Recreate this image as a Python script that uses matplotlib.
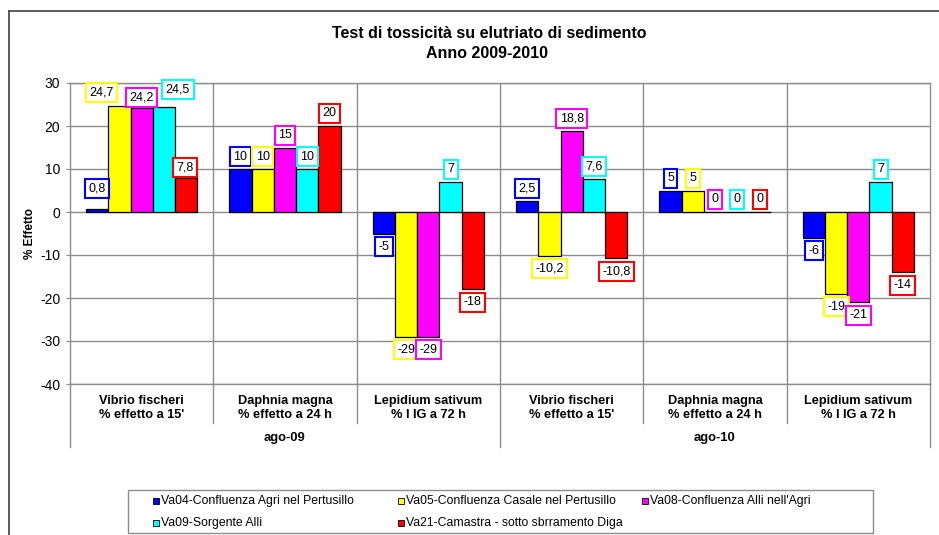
import numpy as np
import matplotlib
matplotlib.use("Agg")
import matplotlib.pyplot as plt
from matplotlib.transforms import blended_transform_factory
from matplotlib.patches import Rectangle

plt.rcParams['font.family'] = ['Liberation Sans', 'DejaVu Sans']

# stations (series)
stations = ["Va04-Confluenza Agri nel Pertusillo",
            "Va05-Confluenza Casale nel Pertusillo",
            "Va08-Confluenza Alli nell'Agri",
            "Va09-Sorgente Alli",
            "Va21-Camastra - sotto sbrramento Diga"]
colors = ["#0000FF", "#FFFF00", "#FF00FF", "#00FFFF", "#FF0000"]

# test categories, two campaigns
tests = ["Vibrio fischeri\n% effetto a 15'",
         "Daphnia magna\n% effetto a 24 h",
         "Lepidium sativum\n% I IG a 72 h"] * 2
campaigns = ["ago-09", "ago-10"]

va04 = [0.8, 10, -5, 2.5, 5, -6]
va05 = [24.7, 10, -29, -10.2, 5, -19]
va08 = [24.2, 15, -29, 18.8, 0, -21]
va09 = [24.5, 10, 7, 7.6, 0, 7]
va21 = [7.8, 20, -18, -10.8, 0, -14]
series = [va04, va05, va08, va09, va21]

yticks = [-40, -30, -20, -10, 0, 10, 20, 30]

# hand-placed labels (pixel offsets) where they would collide
label_nudge = {(0, 0): (0, 20), (0, 1): (-18, 13), (0, 2): (0, 10),
               (0, 3): (14, 17.5), (0, 4): (-1, 10.5)}

W, H = 939, 535


def fmt(v):
    return ("%g" % v).replace(".", ",")


fig = plt.figure(figsize=(W/100, H/100), dpi=100)
ax = fig.add_axes([70/W, 1-384/H, 860/W, 301/H])

n = len(tests)
bw = 1/6.44
x0 = np.arange(n) + 0.5
for i, (vals, c) in enumerate(zip(series, colors)):
    xs = x0 + (i - 2) * bw
    ax.bar(xs, vals, width=bw, color=c, edgecolor="black", linewidth=0.9, zorder=3)
    for k, (x, v) in enumerate(zip(xs, vals)):
        off = (0, 12.5) if v >= 0 else (0, -13)
        off = label_nudge.get((k, i), off)
        ax.annotate(fmt(v), (x, v), xytext=off, textcoords="offset pixels",
                    ha="center", va="center", fontsize=9, zorder=5,
                    bbox=dict(boxstyle="square,pad=0.28", fc="white", ec=c, lw=1.5))

ax.set_xlim(0, n)
ax.set_ylim(-40, 30)
ax.set_yticks(yticks)
ax.set_yticklabels([str(t) for t in yticks], fontsize=10)
ax.tick_params(axis="y", length=3, color="#8c8c8c", pad=4)
ax.set_xticks([])
for y in yticks:
    ax.axhline(y, color="#8c8c8c", lw=1.0, zorder=1)
for k in range(1, n):
    ax.axvline(k, color="#8c8c8c", lw=1.0, zorder=1)
for sp in ax.spines.values():
    sp.set_color("#8c8c8c")
    sp.set_linewidth(1.0)
ax.set_ylabel("% Effetto", fontsize=8.5, fontweight="bold", labelpad=3)

# category axis below the plot
tr = blended_transform_factory(ax.transData, fig.transFigure)
for k, t in enumerate(tests):
    ax.text(k + 0.5, 1-408/H, t, transform=tr, ha="center", va="center",
            fontsize=9.2, fontweight="bold", linespacing=1.25)
for k in range(0, n + 1):
    bottom = 1-447/H if k in (0, 3, 6) else 1-423/H
    ax.plot([k, k], [1-384/H, bottom], transform=tr, color="#8c8c8c",
            lw=1.0, clip_on=False)
for j, c in enumerate(campaigns):
    ax.text(j*3 + 1.5, 1-438/H, c, transform=tr, ha="center", va="center",
            fontsize=9.4, fontweight="bold")

fig.text(489/W, 1-33/H, "Test di tossicità su elutriato di sedimento",
         ha="center", va="center", fontsize=11.5, fontweight="bold")
fig.text(487/W, 1-53/H, "Anno 2009-2010",
         ha="center", va="center", fontsize=11.5, fontweight="bold")

# outer frame
fig.add_artist(plt.Line2D([8.5/W, 8.5/W], [0, 1-11/H], color="#404040", lw=1.2))
fig.add_artist(plt.Line2D([8.5/W, 1], [1-11/H, 1-11/H], color="#404040", lw=1.2))

# legend: three fixed-width columns, two rows
fig.add_artist(Rectangle((128/W, 1-533/H), 745/W, 43/H, transform=fig.transFigure,
                         fc="white", ec="#8c8c8c", lw=1.0))
col_x = [153, 398, 642]
row_y = [501, 523]
for i, (name, c) in enumerate(zip(stations, colors)):
    px, py = col_x[i % 3], row_y[i // 3]
    fig.add_artist(Rectangle((px/W, 1-(py+3)/H), 6/W, 6/H, transform=fig.transFigure,
                             fc=c, ec="black", lw=0.6))
    fig.text((px+8)/W, 1-py/H, name, ha="left", va="center", fontsize=8.8)

fig.savefig("out.png", dpi=100)
